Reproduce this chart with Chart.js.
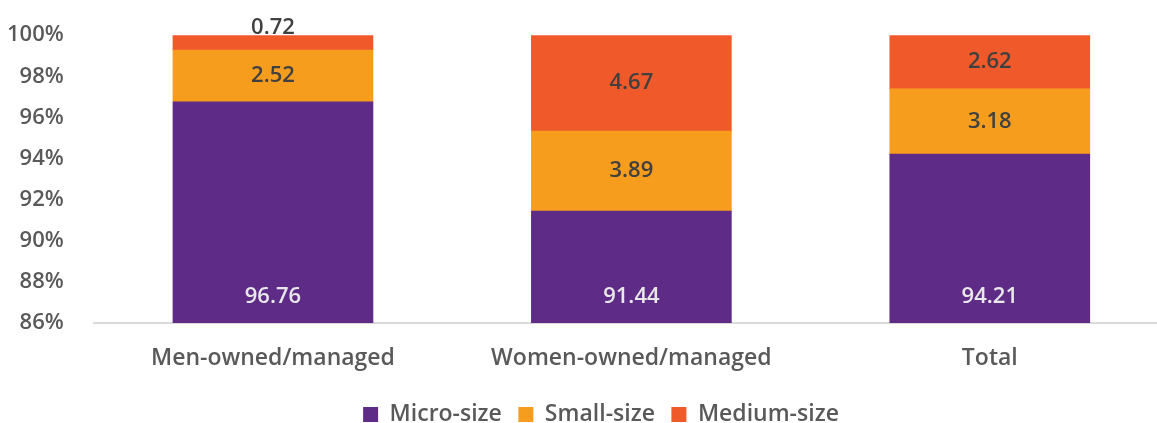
<!DOCTYPE html>
<html>
<head>
<meta charset="utf-8">
<script src="https://cdn.jsdelivr.net/npm/chart.js@4/dist/chart.umd.min.js"></script>
<style>
  html, body { margin: 0; background: #fff; overflow: hidden; }
  #chart { display: block; }
</style>
</head>
<body>
<canvas id="chart" width="1157" height="423"></canvas>
<script>
const categories = ['Men-owned/managed', 'Women-owned/managed', 'Total'];
const microSize = [96.76, 91.44, 94.21];
const smallSize = [2.52, 3.89, 3.18];
const mediumSize = [0.72, 4.67, 2.62];
const yTicks = [86, 88, 90, 92, 94, 96, 98, 100];

const FONT = "'Open Sans', 'Noto Sans', sans-serif";

// Draw the value labels on each segment
const valueLabels = {
    id: 'valueLabels',
    afterDatasetsDraw(chart) {
        const ctx = chart.ctx;
        const area = chart.chartArea;
        ctx.save();
        ctx.font = '600 22px ' + FONT;
        ctx.textAlign = 'center';
        ctx.textBaseline = 'middle';
        chart.data.datasets.forEach((ds, i) => {
            const meta = chart.getDatasetMeta(i);
            meta.data.forEach((bar, j) => {
                const value = ds.data[j];
                let y;
                if (i === 0) {
                    // micro-size label sits near the base
                    y = area.bottom - 26;
                    ctx.fillStyle = '#e8e8e8';
                } else {
                    const top = Math.max(bar.y, area.top);
                    const bottom = bar.base;
                    y = (top + bottom) / 2;
                    if (bottom - top < 20) y = top - 7;
                    ctx.fillStyle = '#404040';
                }
                ctx.fillText(value.toFixed(2), bar.x, y);
            });
        });
        ctx.restore();
    }
};

// the original plot area runs a little past the right edge,
// and its legend sits a bit right of centre
const layoutTweaks = {
    id: 'layoutTweaks',
    afterLayout(chart) {
        const x = chart.scales.x;
        x.right += 12;
        x.configure();
        chart.legend.left += 30;
        chart.legend.right += 30;
    }
};

new Chart(document.getElementById('chart'), {
    type: 'bar',
    data: {
        labels: categories,
        datasets: [
            { label: 'Micro-size', data: microSize, backgroundColor: '#5e2c87' },
            { label: 'Small-size', data: smallSize, backgroundColor: '#f79d1e' },
            { label: 'Medium-size', data: mediumSize, backgroundColor: '#f05a2b' }
        ]
    },
    options: {
        responsive: false,
        animation: false,
        layout: { padding: { top: 20, left: -15, right: 0, bottom: -13 } },
        datasets: { bar: { barThickness: 200 } },
        scales: {
            x: {
                stacked: true,
                grid: { display: false },
                border: { display: true, color: '#d9d9d9', width: 2 },
                ticks: { color: '#595959', font: { family: FONT, size: 23, weight: '600' }, padding: 14 }
            },
            y: {
                stacked: true,
                min: yTicks[0],
                max: yTicks[yTicks.length - 1],
                afterBuildTicks(scale) {
                    scale.ticks = yTicks.map(v => ({ value: v }));
                },
                grid: { display: false },
                border: { display: false },
                ticks: {
                    color: '#595959',
                    font: { family: FONT, size: 22, weight: '600' },
                    padding: 22,
                    callback: v => v + '%'
                }
            }
        },
        plugins: {
            legend: {
                position: 'bottom',
                labels: {
                    color: '#595959',
                    font: { family: FONT, size: 23, weight: '600' },
                    boxWidth: 15,
                    boxHeight: 15,
                    padding: 16.5
                }
            },
            tooltip: { enabled: false }
        }
    },
    plugins: [valueLabels, layoutTweaks]
});
</script>
</body>
</html>
